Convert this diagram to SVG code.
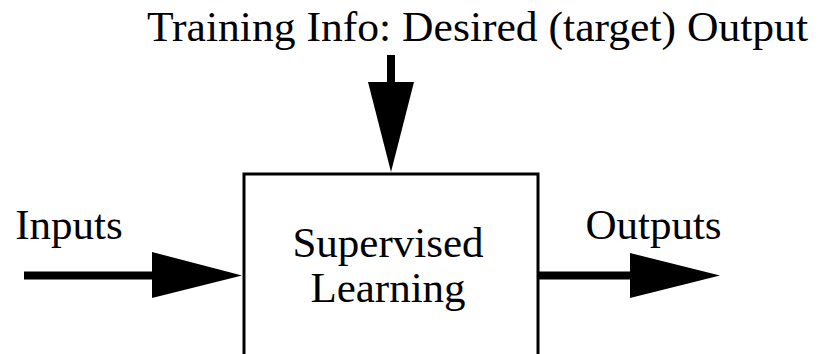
<svg xmlns="http://www.w3.org/2000/svg" width="819" height="354" viewBox="0 0 819 354">
<style>
text{font-family:"Liberation Serif","Times New Roman",serif;font-size:43px;fill:#000}
.ln{stroke:#000;stroke-width:8;fill:none}
.hd{fill:#000}
</style>
<rect width="819" height="354" fill="#fff"/>
<g id="title"><text x="147" y="41" textLength="661" lengthAdjust="spacingAndGlyphs">Training Info: Desired (target) Output</text></g>
<g id="inputs-label"><text x="69" y="239" text-anchor="middle">Inputs</text></g>
<g id="outputs-label"><text x="653.5" y="239" text-anchor="middle">Outputs</text></g>
<g id="box">
<rect x="244" y="174" width="294" height="200" fill="none" stroke="#000" stroke-width="3"/>
<text x="388" y="257" text-anchor="middle">Supervised</text>
<text x="388" y="302" text-anchor="middle">Learning</text>
</g>
<g id="connectors">
<line class="ln" x1="24" y1="275.5" x2="153" y2="275.5"/>
<polygon class="hd" points="152,252 242,275.5 152,298"/>
<line class="ln" x1="538" y1="275.5" x2="631" y2="275.5"/>
<polygon class="hd" points="630,253 720,275.5 630,298"/>
<line class="ln" x1="391" y1="55" x2="391" y2="83"/>
<polygon class="hd" points="368,82 414,82 391,172"/>
</g>
</svg>
